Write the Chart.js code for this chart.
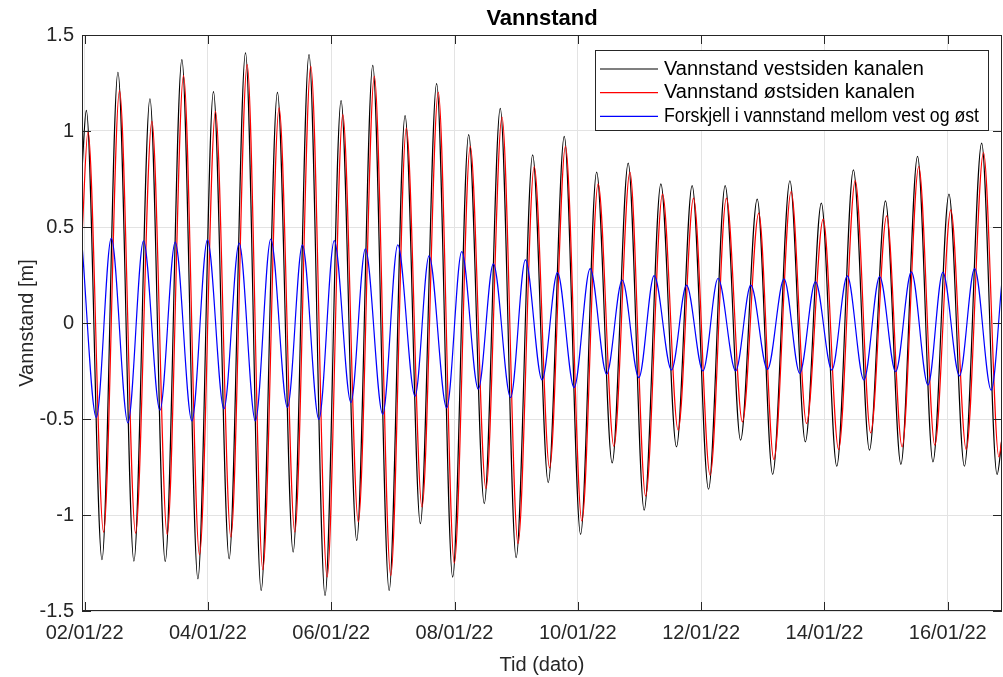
<!DOCTYPE html>
<html lang="no">
<head>
  <meta charset="UTF-8" />
  <title>Vannstand</title>
  <style>
    body { margin: 0; background: #fff; }
    #wrap { width: 1003px; height: 677px; position: relative; }
  </style>
</head>
<body>
  <div id="wrap"><canvas id="tideChart"></canvas></div>

  <script src="https://cdn.jsdelivr.net/npm/chart.js"></script>
  <script>
    // Time in days after 02/01/22 00:00, levels in metres (read at the turning points)
    const westTime = [-0.042, 0.028, 0.282, 0.541, 0.800, 1.060, 1.308, 1.578, 1.838, 2.090, 2.345, 2.610, 2.864, 3.128, 3.383, 3.640, 3.900, 4.160, 4.414, 4.674, 4.940, 5.198, 5.446, 5.710, 5.970, 6.230, 6.483, 6.742, 7.000, 7.267, 7.520, 7.780, 8.045, 8.305, 8.557, 8.817, 9.076, 9.347, 9.600, 9.854, 10.120, 10.390, 10.640, 10.910, 11.160, 11.440, 11.690, 11.950, 12.200, 12.470, 12.730, 12.990, 13.240, 13.510, 13.760, 14.020, 14.270, 14.550, 14.800, 14.880];
    const westLevel = [0.80, 1.107, -1.233, 1.306, -1.240, 1.168, -1.242, 1.372, -1.332, 1.205, -1.228, 1.407, -1.393, 1.201, -1.193, 1.398, -1.419, 1.158, -1.132, 1.342, -1.393, 1.080, -1.045, 1.247, -1.323, 0.981, -0.941, 1.118, -1.222, 0.876, -0.831, 0.972, -1.101, 0.786, -0.729, 0.833, -0.975, 0.725, -0.645, 0.716, -0.866, 0.715, -0.610, 0.645, -0.788, 0.741, -0.619, 0.624, -0.746, 0.798, -0.662, 0.636, -0.736, 0.868, -0.723, 0.671, -0.746, 0.937, -0.789, -0.60];

    const eastTime = [-0.042, 0.055, 0.308, 0.567, 0.827, 1.092, 1.340, 1.605, 1.864, 2.123, 2.373, 2.637, 2.891, 3.155, 3.410, 3.669, 3.934, 4.188, 4.440, 4.700, 4.966, 5.219, 5.473, 5.737, 5.997, 6.256, 6.510, 6.770, 7.030, 7.293, 7.543, 7.800, 8.066, 8.330, 8.585, 8.845, 9.100, 9.374, 9.627, 9.877, 10.146, 10.410, 10.670, 10.935, 11.180, 11.460, 11.710, 11.980, 12.230, 12.500, 12.750, 13.010, 13.260, 13.530, 13.790, 14.050, 14.300, 14.580, 14.830, 14.880];
    const eastLevel = [0.45, 0.998, -1.089, 1.210, -1.094, 1.050, -1.101, 1.288, -1.207, 1.102, -1.115, 1.346, -1.285, 1.120, -1.089, 1.337, -1.323, 1.085, -1.036, 1.285, -1.315, 1.015, -0.958, 1.201, -1.250, 0.920, -0.863, 1.073, -1.149, 0.815, -0.755, 0.920, -1.031, 0.725, -0.642, 0.786, -0.902, 0.671, -0.558, 0.650, -0.793, 0.650, -0.515, 0.572, -0.711, 0.685, -0.523, 0.541, -0.659, 0.742, -0.572, 0.558, -0.645, 0.815, -0.636, 0.589, -0.659, 0.888, -0.697, -0.60];

    const diffTime = [-0.042, 0.190, 0.433, 0.703, 0.956, 1.222, 1.470, 1.740, 1.993, 2.260, 2.507, 2.770, 3.020, 3.290, 3.533, 3.800, 4.050, 4.320, 4.554, 4.836, 5.080, 5.360, 5.587, 5.873, 6.117, 6.386, 6.630, 6.910, 7.150, 7.420, 7.670, 7.940, 8.200, 8.467, 8.720, 8.990, 9.238, 9.520, 9.763, 10.030, 10.275, 10.560, 10.806, 11.076, 11.345, 11.600, 11.854, 12.120, 12.370, 12.640, 12.896, 13.155, 13.410, 13.680, 13.920, 14.190, 14.436, 14.706, 14.880];
    const diffLevel = [0.41, -0.492, 0.442, -0.520, 0.428, -0.454, 0.421, -0.510, 0.433, -0.447, 0.416, -0.510, 0.437, -0.440, 0.407, -0.502, 0.429, -0.414, 0.386, -0.476, 0.407, -0.381, 0.350, -0.442, 0.372, -0.344, 0.308, -0.388, 0.329, -0.297, 0.262, -0.336, 0.283, -0.266, 0.224, -0.285, 0.247, -0.245, 0.197, -0.250, 0.233, -0.249, 0.197, -0.242, 0.230, -0.262, 0.216, -0.245, 0.245, -0.297, 0.242, -0.254, 0.266, -0.323, 0.264, -0.275, 0.283, -0.350, 0.22];

    const xTickDays = [0, 2, 4, 6, 8, 10, 12, 14];
    const xTickLabels = ['02/01/22', '04/01/22', '06/01/22', '08/01/22', '10/01/22', '12/01/22', '14/01/22', '16/01/22'];
    const yTicks = [-1.5, -1, -0.5, 0, 0.5, 1, 1.5];

    const FONT = "'Liberation Sans', Arial, sans-serif";
    const AXIS = '#262626';

    const toPoints = (t, v) => t.map((x, i) => ({ x: x, y: v[i] }));

    // MATLAB-like box, inner ticks, title and legend
    const matlabFrame = {
      id: 'matlabFrame',
      afterDraw(chart) {
        const { ctx, chartArea: a, scales: { x, y } } = chart;
        ctx.save();
        ctx.strokeStyle = AXIS;
        ctx.lineWidth = 1;
        ctx.strokeRect(a.left + 0.5, a.top + 0.5, a.right - a.left - 1, a.bottom - a.top - 1);
        ctx.beginPath();
        x.ticks.forEach(t => {
          const px = Math.round(x.getPixelForValue(t.value)) + 0.5;
          ctx.moveTo(px, a.bottom); ctx.lineTo(px, a.bottom - 9);
          ctx.moveTo(px, a.top); ctx.lineTo(px, a.top + 9);
        });
        y.ticks.forEach(t => {
          const py = Math.round(y.getPixelForValue(t.value)) + 0.5;
          ctx.moveTo(a.left, py); ctx.lineTo(a.left + 9, py);
          ctx.moveTo(a.right, py); ctx.lineTo(a.right - 9, py);
        });
        ctx.stroke();

        // title
        ctx.fillStyle = '#000';
        ctx.font = 'bold 22px ' + FONT;
        ctx.textAlign = 'center';
        ctx.textBaseline = 'middle';
        ctx.fillText('Vannstand', (a.left + a.right) / 2, 19);

        // legend
        const lx = a.right - 407, ly = a.top + 15, lw = 393, lh = 80;
        ctx.fillStyle = '#fff';
        ctx.fillRect(lx, ly, lw, lh);
        ctx.strokeStyle = AXIS;
        ctx.lineWidth = 1;
        ctx.strokeRect(lx + 0.5, ly + 0.5, lw, lh);
        ctx.font = '20px ' + FONT;
        ctx.textAlign = 'left';
        chart.data.datasets.forEach((ds, i) => {
          const ry = ly + 19 + i * 23.7;
          ctx.strokeStyle = ds.borderColor;
          ctx.lineWidth = 1.2;
          ctx.beginPath();
          ctx.moveTo(lx + 5, ry); ctx.lineTo(lx + 63, ry);
          ctx.stroke();
          ctx.fillStyle = '#000';
          ctx.fillText(ds.label, lx + 69, ry, lw - 78);
        });
        ctx.restore();
      }
    };

    new Chart(document.getElementById('tideChart'), {
      type: 'line',
      data: {
        datasets: [
          {
            label: 'Vannstand vestsiden kanalen',
            data: toPoints(westTime, westLevel),
            borderColor: '#000000',
            order: 3
          },
          {
            label: 'Vannstand østsiden kanalen',
            data: toPoints(eastTime, eastLevel),
            borderColor: '#ff0000',
            order: 2
          },
          {
            label: 'Forskjell i vannstand mellom vest og øst',
            data: toPoints(diffTime, diffLevel),
            borderColor: '#0000ff',
            order: 1
          }
        ]
      },
      options: {
        responsive: true,
        maintainAspectRatio: false,
        animation: false,
        layout: { padding: { top: 35, right: 1, left: 0, bottom: 0 } },
        elements: {
          line: { borderWidth: 1.2, cubicInterpolationMode: 'monotone', fill: false },
          point: { radius: 0 }
        },
        plugins: {
          legend: { display: false },
          title: { display: false },
          tooltip: { enabled: false }
        },
        scales: {
          x: {
            type: 'linear',
            min: -0.042,
            max: 14.88,
            afterBuildTicks: s => { s.ticks = xTickDays.map(v => ({ value: v })); },
            afterFit: s => { s.height = 66; },
            grid: { color: '#e3e3e3', drawTicks: false },
            border: { display: false },
            ticks: {
              color: AXIS,
              padding: 10,
              maxRotation: 0,
              font: { family: FONT, size: 20 },
              callback: (v, i) => xTickLabels[i]
            },
            title: {
              display: true,
              text: 'Tid (dato)',
              color: AXIS,
              padding: { top: 4, bottom: 0 },
              font: { family: FONT, size: 20 }
            }
          },
          y: {
            min: -1.5,
            max: 1.5,
            afterBuildTicks: s => { s.ticks = yTicks.map(v => ({ value: v })); },
            afterFit: s => { s.width = 82; },
            grid: { color: '#e3e3e3', drawTicks: false },
            border: { display: false },
            ticks: {
              color: AXIS,
              padding: 8,
              font: { family: FONT, size: 20 },
              callback: v => String(v)
            },
            title: {
              display: true,
              text: 'Vannstand [m]',
              color: AXIS,
              padding: { top: 15, bottom: 0 },
              font: { family: FONT, size: 20 }
            }
          }
        }
      },
      plugins: [matlabFrame]
    });
  </script>
</body>
</html>
